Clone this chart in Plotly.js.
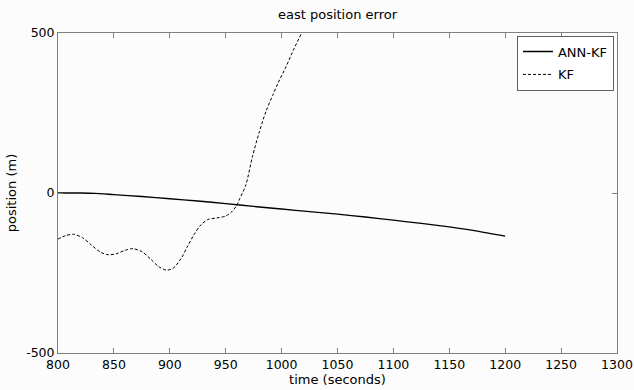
<!DOCTYPE html>
<html>
<head>
<meta charset="utf-8">
<script src="https://cdn.plot.ly/plotly-3.0.1.min.js"></script>
<style>html,body{margin:0;padding:0;background:#fcfcfc;}#chart{width:634px;height:390px;}</style>
</head>
<body>
<div id="chart"></div>
<script>
// ANN-KF east position error
const annTime = [800, 820, 833, 850, 875, 900, 925, 950, 975, 1000, 1025, 1050, 1075, 1100, 1125, 1150, 1175, 1200];
const annError = [0, 0, -1, -5, -11, -18, -25, -33, -42, -50, -58, -66, -75, -85, -95, -106, -119, -135];

// KF east position error
const kfTime = [800, 807, 814, 822, 830, 838, 845, 852, 860, 867, 875, 883, 890, 897, 903, 910, 916, 922, 928, 934, 942, 950, 955, 960, 962, 968, 974, 980, 986, 992, 997, 1004, 1011, 1018, 1025];
const kfError = [-144, -133, -129, -140, -163, -185, -193, -190, -179, -174, -183, -207, -230, -241, -235, -205, -166, -128, -99, -83, -78, -72, -60, -38, -22, 25, 115, 190, 255, 305, 345, 395, 450, 500, 545];

const xTicks = [800, 850, 900, 950, 1000, 1050, 1100, 1150, 1200, 1250, 1300];
const yTicks = [-500, 0, 500];

const font = {family: 'DejaVu Sans, Verdana, sans-serif', size: 12.5, color: '#000'};

const traces = [
  {x: annTime, y: annError, name: 'ANN-KF', mode: 'lines', legendgroup: 'a',
   line: {color: '#000', width: 1.3, shape: 'spline', smoothing: 0.6}},
  {x: kfTime, y: kfError, name: 'KF', mode: 'lines', legendgroup: 'b',
   line: {color: '#000', width: 1, dash: '3px,2px', shape: 'spline', smoothing: 0.8}}
];

const axisCommon = {
  showgrid: false, zeroline: false,
  showline: true, linecolor: '#808080', linewidth: 1, mirror: 'ticks',
  ticks: 'inside', ticklen: 5, tickcolor: '#808080', tickwidth: 1,
  tickfont: font
};

const layout = {
  width: 634, height: 390,
  paper_bgcolor: '#fcfcfc', plot_bgcolor: '#fcfcfc',
  margin: {l: 58, r: 17, t: 33, b: 37},
  font: font,
  title: {text: 'east position error', font: {family: font.family, size: 13, color: '#000'},
          x: 0.5, xref: 'paper', xanchor: 'center', y: 0.962, yanchor: 'middle'},
  xaxis: Object.assign({}, axisCommon, {
    range: [800, 1300], tickmode: 'array', tickvals: xTicks, ticktext: xTicks.map(String),
    title: {text: 'time (seconds)', font: {family: font.family, size: 13, color: '#000'}, standoff: 2}
  }),
  yaxis: Object.assign({}, axisCommon, {
    range: [-500, 500], tickmode: 'array', tickvals: yTicks, ticktext: yTicks.map(String),
    title: {text: 'position (m)', font: {family: font.family, size: 13, color: '#000'}, standoff: 6}
  }),
  showlegend: true,
  legend: {
    x: 0.9946, xanchor: 'right', y: 0.992, yanchor: 'top',
    bgcolor: '#ffffff', bordercolor: '#606060', borderwidth: 1,
    font: {family: font.family, size: 13, color: '#000'},
    traceorder: 'grouped', tracegroupgap: 3, itemwidth: 30
  }
};

Plotly.newPlot('chart', traces, layout, {displayModeBar: false, staticPlot: true});
</script>
</body>
</html>
